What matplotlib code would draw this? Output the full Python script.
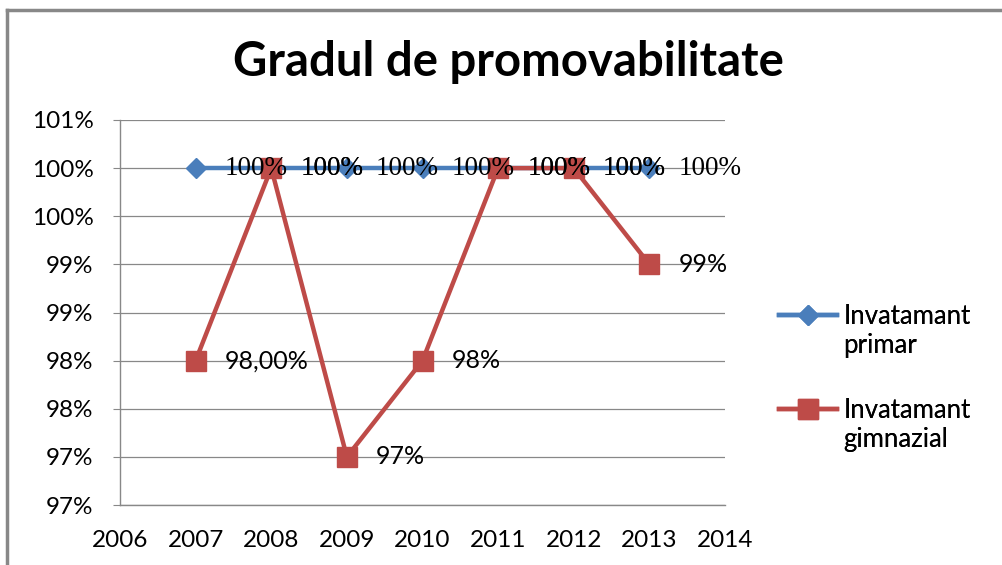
import matplotlib
matplotlib.use("Agg")
import matplotlib.pyplot as plt
from matplotlib.lines import Line2D
from matplotlib.ticker import FixedLocator, FuncFormatter

years = [2007, 2008, 2009, 2010, 2011, 2012, 2013]
primar = [100, 100, 100, 100, 100, 100, 100]
gimnazial = [98, 100, 97, 98, 100, 100, 99]
primar_labels = ["100%", "100%", "100%", "100%", "100%", "100%", "100%"]
gimnazial_labels = ["98,00%", "100%", "97%", "98%", "100%", "100%", "99%"]
y_ticks = [96.5, 97, 97.5, 98, 98.5, 99, 99.5, 100, 100.5]
x_ticks = [2006, 2007, 2008, 2009, 2010, 2011, 2012, 2013, 2014]
series_names = ["Invatamant primar", "Invatamant gimnazial"]
title = "Gradul de promovabilitate"

BLUE = "#4a7ebb"
RED = "#be4b48"
GRID = "#888888"
SANS = ["Lato", "DejaVu Sans"]
SERIF = ["Liberation Serif", "DejaVu Serif"]

fig = plt.figure(figsize=(10.03, 5.65), dpi=100)
ax = fig.add_axes([120 / 1003, 1 - 505 / 565, 605 / 1003, 385 / 565])

ax.plot(years, primar, color=BLUE, lw=3.2, marker="D", ms=10, mfc=BLUE, mec=BLUE, zorder=3)
ax.plot(years, gimnazial, color=RED, lw=3.2, marker="s", ms=14, mfc=RED, mec=RED, zorder=4)

for x, y, t in zip(years, primar, primar_labels):
    ax.annotate(t, (x, y), xytext=(21, 0), textcoords="offset points", va="center", ha="left",
                fontsize=19.5, family=SERIF, color="black", zorder=6)
for x, y, t in zip(years, gimnazial, gimnazial_labels):
    fam = SERIF if t == "100%" else SANS
    fs = 19.5 if t == "100%" else 18
    ax.annotate(t, (x, y), xytext=(21, 0), textcoords="offset points", va="center", ha="left",
                fontsize=fs, family=fam, color="black", zorder=6)

ax.set_xlim(2006, 2014)
ax.set_ylim(96.5, 100.5)
ax.yaxis.set_major_locator(FixedLocator(y_ticks))
ax.yaxis.set_major_formatter(FuncFormatter(lambda v, p: f"{int(v + 0.5)}%"))
ax.xaxis.set_major_locator(FixedLocator(x_ticks))
ax.xaxis.set_major_formatter(FuncFormatter(lambda v, p: f"{int(round(v))}"))
ax.grid(axis="y", color=GRID, lw=0.9)
ax.set_axisbelow(True)
for s in ["top", "right"]:
    ax.spines[s].set_visible(False)
for s in ["left", "bottom"]:
    ax.spines[s].set_color(GRID)
    ax.spines[s].set_linewidth(1.0)
ax.tick_params(axis="y", length=5, color=GRID, pad=14)
ax.tick_params(axis="x", length=0, pad=18)
for lab in ax.get_xticklabels() + ax.get_yticklabels():
    lab.set_family(SANS)
    lab.set_fontsize(17.5)

fig.text(508 / 1003, 1 - 62 / 565, title, ha="center", va="center", fontsize=34,
         fontweight="bold", family=SANS)

handles = [Line2D([], [], color=BLUE, lw=3.2, marker="D", ms=10),
           Line2D([], [], color=RED, lw=3.2, marker="s", ms=14)]
blank = Line2D([], [], alpha=0)
centers = [331, 425]
for h, name, cy in zip(handles, series_names, centers):
    first, second = name.split(" ", 1)
    leg = fig.legend([h, blank], [first, second], loc="center left",
                     bbox_to_anchor=(779 / 1003, 1 - cy / 565),
                     frameon=False, prop={"family": SANS, "size": 18.5}, handlelength=2.25,
                     labelspacing=0.15, handletextpad=0.25, borderaxespad=0, borderpad=0)
    fig.add_artist(leg)

fig.add_artist(Line2D([7.5 / 1003, 7.5 / 1003], [0, 1 - 10 / 565], color="#888888", lw=2.5,
                      transform=fig.transFigure))
fig.add_artist(Line2D([7.5 / 1003, 1], [1 - 10 / 565, 1 - 10 / 565], color="#888888", lw=2.5,
                      transform=fig.transFigure))

fig.savefig("out.png", dpi=100)
